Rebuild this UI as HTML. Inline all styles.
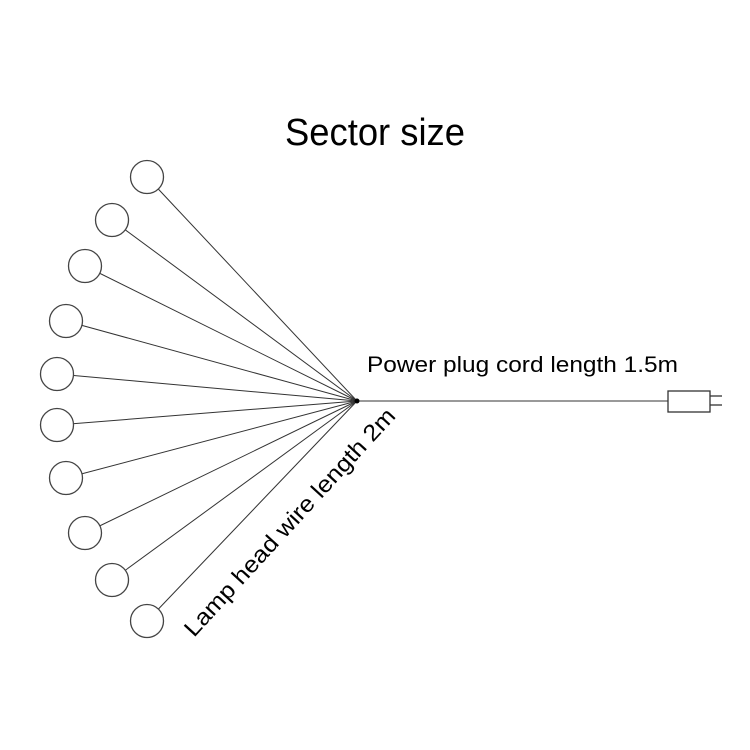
<!DOCTYPE html>
<html><head><meta charset="utf-8"><style>html,body{margin:0;padding:0;background:#fff}svg{display:block}</style></head>
<body>
<svg width="750" height="750" viewBox="0 0 750 750" xmlns="http://www.w3.org/2000/svg" font-family="'Liberation Sans', sans-serif">
<rect width="750" height="750" fill="#fff"/>
<text x="285" y="145" font-size="38" textLength="180" lengthAdjust="spacingAndGlyphs" fill="#000">Sector size</text>
<g stroke="#333" stroke-width="1">
<line x1="357" y1="401" x2="147" y2="177"/>
<line x1="357" y1="401" x2="112" y2="220"/>
<line x1="357" y1="401" x2="85" y2="266"/>
<line x1="357" y1="401" x2="66" y2="321"/>
<line x1="357" y1="401" x2="57" y2="374"/>
<line x1="357" y1="401" x2="57" y2="425"/>
<line x1="357" y1="401" x2="66" y2="478"/>
<line x1="357" y1="401" x2="85" y2="533"/>
<line x1="357" y1="401" x2="112" y2="580"/>
<line x1="357" y1="401" x2="147" y2="621"/>
<line x1="357" y1="401" x2="668" y2="401"/>
</g>
<g fill="#fff" stroke="#444" stroke-width="1.3">
<circle cx="147" cy="177" r="16.5"/>
<circle cx="112" cy="220" r="16.5"/>
<circle cx="85" cy="266" r="16.5"/>
<circle cx="66" cy="321" r="16.5"/>
<circle cx="57" cy="374" r="16.5"/>
<circle cx="57" cy="425" r="16.5"/>
<circle cx="66" cy="478" r="16.5"/>
<circle cx="85" cy="533" r="16.5"/>
<circle cx="112" cy="580" r="16.5"/>
<circle cx="147" cy="621" r="16.5"/>
</g>
<circle cx="357" cy="401" r="2.5" fill="#000"/>
<rect x="668" y="391" width="42" height="21" fill="#fff" stroke="#333" stroke-width="1.3"/>
<line x1="710" y1="396" x2="722" y2="396" stroke="#333" stroke-width="1.3"/>
<line x1="710" y1="405" x2="722" y2="405" stroke="#333" stroke-width="1.3"/>
<text x="367" y="372" font-size="22" textLength="311" lengthAdjust="spacingAndGlyphs" fill="#000">Power plug cord length 1.5m</text>
<text x="0" y="0" font-size="23" textLength="300" lengthAdjust="spacingAndGlyphs" fill="#000" transform="translate(194,638) rotate(-47.5)">Lamp head wire length 2m</text>
</svg>
</body></html>
